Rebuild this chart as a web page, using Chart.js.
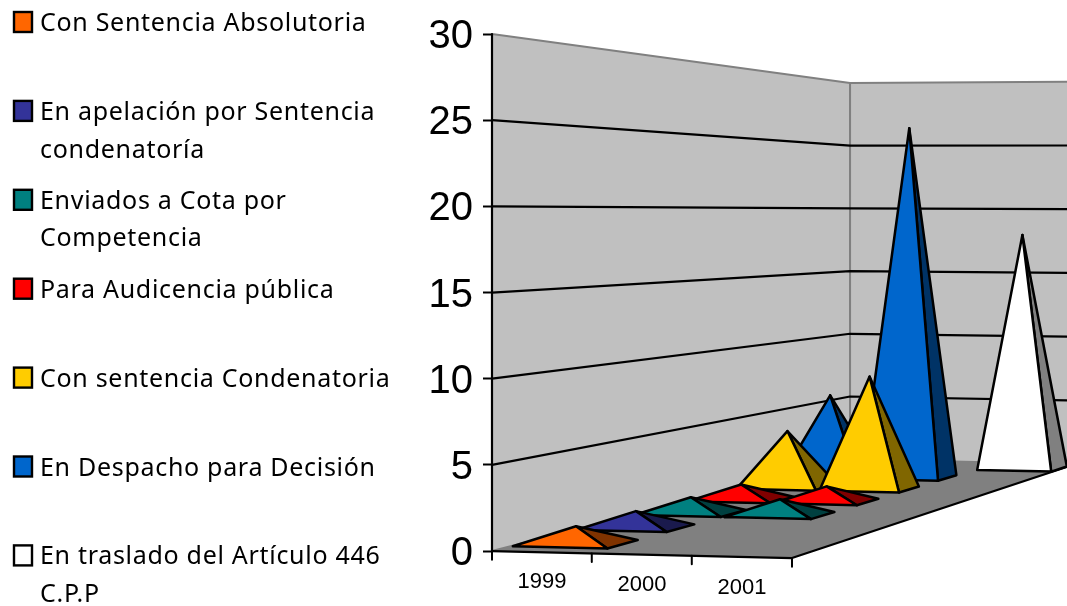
<!DOCTYPE html>
<html>
<head>
<meta charset="utf-8">
<title>Procesos por estado</title>
<script src="https://cdn.jsdelivr.net/npm/chart.js@4"></script>
<style>
  html, body { margin: 0; padding: 0; background: #fff; }
  canvas { display: block; }
</style>
</head>
<body>
<canvas id="chart" width="1067" height="606"></canvas>
<script>
// DATA
const categories = ['1999', '2000', '2001'];
const seriesNames = [
    'Con Sentencia Absolutoria',
    'En apelación por Sentencia condenatoría',
    'Enviados a Cota por Competencia',
    'Para Audicencia pública',
    'Con sentencia Condenatoria',
    'En Despacho para Decisión',
    'En traslado del Artículo 446 C.P.P'
];
const absolutoria = [1, 0, 0];
const apelacion = [1, 0, 0];
const cota = [1, 1, 0];
const audiencia = [1, 1, 0];
const condenatoria = [4, 8, 0];
const despacho = [6, 26, 0];
const traslado = [0, 0, 18];
const seriesValues = [absolutoria, apelacion, cota, audiencia, condenatoria, despacho, traslado];
const seriesColors = ['#FF6600', '#333399', '#008080', '#FF0000', '#FFCC00', '#0066CC', '#FFFFFF'];
const seriesShades = ['#803300', '#1A1A4D', '#004040', '#800000', '#806600', '#003366', '#808080'];
const valueTicks = [0, 5, 10, 15, 20, 25, 30];

// where the legend text wraps
const legendWrap = [
    ['Con Sentencia Absolutoria'],
    ['En apelación por Sentencia', 'condenatoría'],
    ['Enviados a Cota por', 'Competencia'],
    ['Para Audicencia pública'],
    ['Con sentencia Condenatoria'],
    ['En Despacho para Decisión'],
    ['En traslado del Artículo 446', 'C.P.P']
];

// perspective of the floor, in axis units
const view = { g: -0.00332, h: 0.3375, xu: 2.99, xv: 4.789, yu: -0.404, yv: 7.127, hu: -0.022, hv: 0.374 };
const pyramidWidth = 0.48;
const pyramidDepth = 0.25;
const rowCentre = 0.53;

// category c, series s, value val -> point on the x/y scales
function project(c, s, val) {
    const u = c / categories.length;
    const v = s / seriesNames.length;
    const w = 1 + view.g * u + view.h * v;
    const wh = 1 + view.hu * u + view.hv * v;
    return {
        x: (view.xu * u + view.xv * v) / w,
        y: (view.yu * u + view.yv * v) / w + val / wh
    };
}

function shape(points, fillColor, lineColor, lineWidth) {
    return {
        data: points,
        fill: fillColor ? 'shape' : false,
        backgroundColor: fillColor || 'transparent',
        borderColor: lineColor || 'transparent',
        borderWidth: lineWidth || 0,
        borderJoinStyle: 'round',
        borderCapStyle: 'round',
        pointRadius: 0,
        tension: 0,
        clip: false
    };
}

function buildDatasets() {
    const nc = categories.length;
    const ns = seriesNames.length;
    const sets = [];

    // walls and floor
    sets.push(shape([project(0, 0, 0), project(0, ns, 0), project(0, ns, 30), project(0, 0, 30), project(0, 0, 0)], '#C0C0C0', '#808080', 2));
    sets.push(shape([project(0, ns, 0), project(nc, ns, 0), project(nc, ns, 30), project(0, ns, 30), project(0, ns, 0)], '#C0C0C0', '#808080', 2));
    sets.push(shape([project(0, 0, 0), project(nc, 0, 0), project(nc, ns, 0), project(0, ns, 0), project(0, 0, 0)], '#808080'));

    // grid lines
    valueTicks.filter(t => t > 0 && t < 30).forEach(t => {
        sets.push(shape([project(0, 0, t), project(0, ns, t), project(nc, ns, t)], null, '#000000', 2.2));
    });

    // axes
    sets.push(shape([project(0, 0, 0), project(0, 0, 30)], null, '#000000', 2.2));
    sets.push(shape([project(0, 0, 0), project(nc, 0, 0), project(nc, ns, 0)], null, '#000000', 2.2));
    for (let c = 0; c <= nc; c++) {
        const p = project(c, 0, 0);
        sets.push(shape([p, { x: p.x, y: p.y - 0.5 }], null, '#000000', 2));
    }

    // pyramids, back row first
    for (let s = ns - 1; s >= 0; s--) {
        for (let c = 0; c < nc; c++) {
            const val = seriesValues[s][c];
            if (!val) continue;
            const cx = c + 0.5;
            const sx = s + rowCentre;
            const apex = project(cx, sx, val);
            const left = project(cx - pyramidWidth, sx - pyramidDepth, 0);
            const front = project(cx + pyramidWidth, sx - pyramidDepth, 0);
            const right = project(cx + pyramidWidth, sx + pyramidDepth, 0);
            sets.push(shape([front, right, apex, front], seriesShades[s], '#000000', 2.5));
            sets.push(shape([left, front, apex, left], seriesColors[s], '#000000', 2.5));
        }
    }

    // first dataset in the list has to paint first
    sets.forEach((d, i) => { d.order = sets.length - i; });
    return sets;
}

// legend on the left, real text on the canvas
const sideLegend = {
    id: 'sideLegend',
    afterDraw(chart) {
        const ctx = chart.ctx;
        ctx.save();
        ctx.font = '25px "Noto Sans"';
        ctx.letterSpacing = '0.7px';
        ctx.textBaseline = 'alphabetic';
        legendWrap.forEach((lines, i) => {
            const mid = 22 + i * 88.9;
            ctx.fillStyle = seriesColors[i];
            ctx.fillRect(14, mid - 10, 18, 20);
            ctx.strokeStyle = '#000000';
            ctx.lineWidth = 2.4;
            ctx.strokeRect(14, mid - 10, 18, 20);
            ctx.fillStyle = '#000000';
            lines.forEach((line, n) => {
                ctx.fillText(line, 40, mid + 9 + n * 37.6);
            });
        });
        ctx.restore();
    }
};

new Chart(document.getElementById('chart').getContext('2d'), {
    type: 'line',
    data: { datasets: buildDatasets() },
    plugins: [sideLegend],
    options: {
        responsive: false,
        animation: false,
        layout: { padding: { top: 33, right: 0, bottom: 0, left: 0 } },
        plugins: { legend: { display: false }, tooltip: { enabled: false } },
        scales: {
            x: {
                type: 'linear',
                min: 0,
                max: 5.75,
                grid: { display: false, drawTicks: false },
                border: { display: false },
                afterBuildTicks: axis => {
                    axis.ticks = categories.map((label, i) => ({ value: i + 0.5 }));
                },
                afterFit: axis => { axis.height = 37.7; },
                ticks: {
                    autoSkip: false,
                    maxRotation: 0,
                    padding: 2,
                    color: '#000000',
                    // labels follow the slope of the floor edge
                    font: ctx => ({ family: '"Liberation Sans"', size: 22, lineHeight: (24 + 6 * (ctx.index || 0)) + 'px' }),
                    callback: value => categories[Math.round(value - 0.5)]
                }
            },
            y: {
                type: 'linear',
                min: -1,
                max: 30,
                grid: { drawOnChartArea: false, tickLength: 9, tickColor: '#000000', tickWidth: 2 },
                border: { display: false },
                afterBuildTicks: axis => {
                    axis.ticks = valueTicks.map(t => ({ value: t }));
                },
                afterFit: axis => { axis.width = 492; },
                ticks: {
                    padding: 10,
                    labelOffset: 3,
                    color: '#000000',
                    font: { family: '"Liberation Sans"', size: 40 }
                }
            }
        }
    }
});
</script>
</body>
</html>
